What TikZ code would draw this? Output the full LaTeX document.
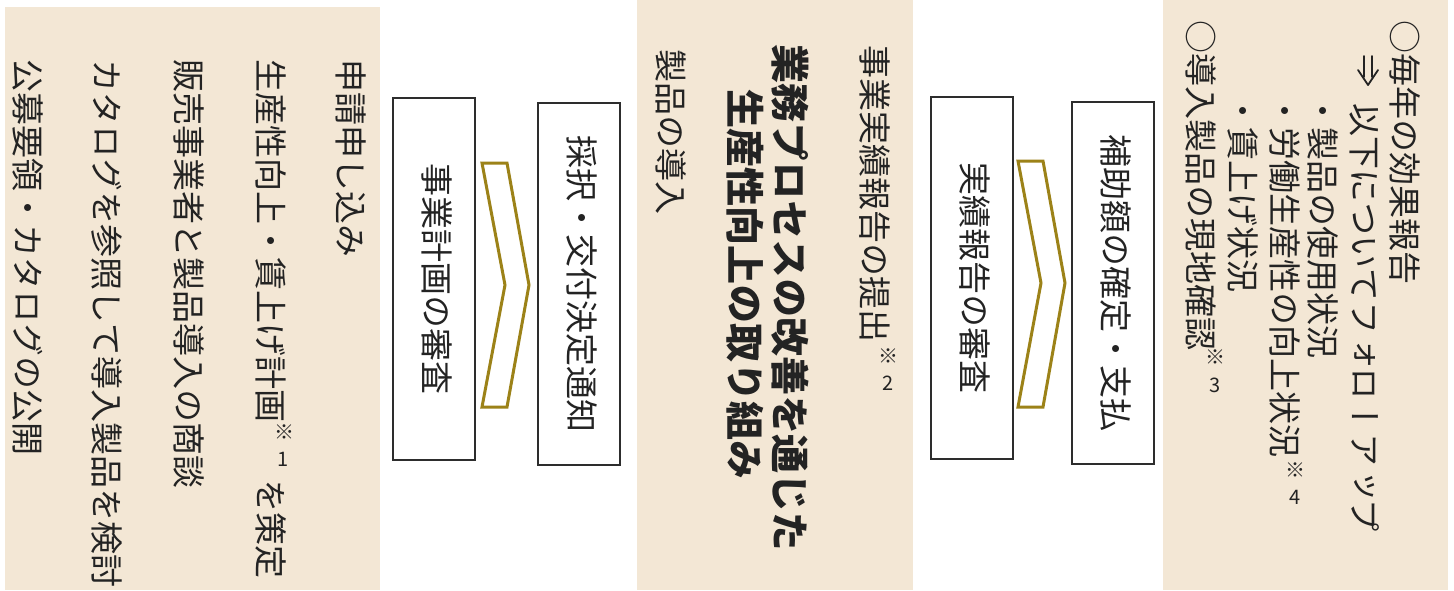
\documentclass[tikz,border=0pt]{standalone}
\usepackage{fontspec}
\usepackage{graphicx}
\newfontfamily\vjp[Vertical=RotatedGlyphs,RawFeature=+vert]{Noto Sans CJK JP}
\newfontfamily\jp{Noto Sans CJK JP}
\newcommand\vt[2][33]{\rotatebox{-90}{\smash{\vjp\fontsize{#1}{#1}\selectfont\raisebox{-.29em}{#2}}}}
\definecolor{beige}{RGB}{243,231,213}
\definecolor{boxgray}{RGB}{45,45,45}
\definecolor{gold}{RGB}{156,130,24}
\definecolor{ink}{RGB}{35,35,35}
\tikzset{
  panel/.style={fill=beige, draw=none},
  vcol/.style={inner sep=0pt, anchor=north, text=ink},
  stepbox/.style={draw=boxgray, line width=2pt, fill=white, minimum width=82pt, minimum height=362pt, inner sep=0pt, text=ink},
  chev/.style={draw=gold, line width=3pt, fill=white, line join=miter},
  note/.style={inner sep=0pt, text=ink, font=\jp\fontsize{20}{20}\selectfont},
  dblarrow/.style={draw=ink, line width=1.8pt, line cap=round, line join=round}
}
\begin{document}
\begin{tikzpicture}[x=1pt,y=-1pt]
\useasboundingbox (0,0) rectangle (1454,590);
\fill[white] (0,0) rectangle (1454,590);
% panels
\path[panel] (5,7) rectangle (380,590);
\path[panel] (637,0) rectangle (913,590);
\path[panel] (1163,0) rectangle (1448,590);
% left panel
\node[vcol] (l1) at (348,59) {\vt{申請申し込み}};
\node[vcol] (l2a) at (268,59) {\vt{生産性向上・賃上げ計画}};
\node[note] (n1a) at (284,432) {※};
\node[note] (n1b) at (283,459) {1};
\node[vcol] (l2b) at (268,479) {\vt{を策定}};
\node[vcol] (l3) at (186,59) {\vt{販売事業者と製品導入の商談}};
\node[vcol] (l4) at (104,59) {\vt{カタログを参照して導入製品を検討}};
\node[vcol] (l5) at (25,59) {\vt{公募要領・カタログの公開}};
% first pair of boxes
\node[stepbox] (b1) at (434,279) {\vt{事業計画の審査}};
\node[stepbox] (b2) at (579,284) {\vt{採択・交付決定通知}};
\draw[chev] (482,163) -- (507,163) -- (529,285) -- (507,407) -- (482,407) -- (505,285) -- cycle;
% middle panel
\node[vcol] (m1) at (872,45) {\vt{事業実績報告の提出}};
\node[note] (n2a) at (888,356) {※};
\node[note] (n2b) at (888,383) {2};
\node[vcol] (m2) at (787,44) {\vt[39]{\bfseries 業務プロセスの改善を通じた}};
\node[vcol] (m3) at (742,89) {\vt[39]{\bfseries 生産性向上の取り組み}};
\node[vcol] (m4) at (668,49) {\vt{製品の導入}};
% second pair of boxes
\node[stepbox] (b3) at (972,278) {\vt{実績報告の審査}};
\node[stepbox] (b4) at (1113,283) {\vt{補助額の確定・支払}};
\draw[chev] (1018,161) -- (1043,161) -- (1065,283) -- (1043,407) -- (1018,407) -- (1041,283) -- cycle;
% right panel
\node[vcol] (r1) at (1402,20) {\vt{○毎年の効果報告}};
\draw[dblarrow] (1364,56) -- (1364,77) (1372,56) -- (1372,77) (1358,70) -- (1368,85) -- (1378,70);
\node[vcol] (r2) at (1362,103) {\vt{以下についてフォローアップ}};
\node[vcol] (r3) at (1320,94) {\vt{・製品の使用状況}};
\node[vcol] (r4) at (1282,94) {\vt{・労働生産性の向上状況}};
\node[note] (n4a) at (1295,470) {※};
\node[note] (n4b) at (1295,497) {4};
\node[vcol] (r5) at (1240,94) {\vt{・賃上げ状況}};
\node[vcol] (r6) at (1198,20) {\vt{○導入製品の現地確認}};
\node[note] (n3a) at (1215,357) {※};
\node[note] (n3b) at (1215,385) {3};
\end{tikzpicture}
\end{document}
